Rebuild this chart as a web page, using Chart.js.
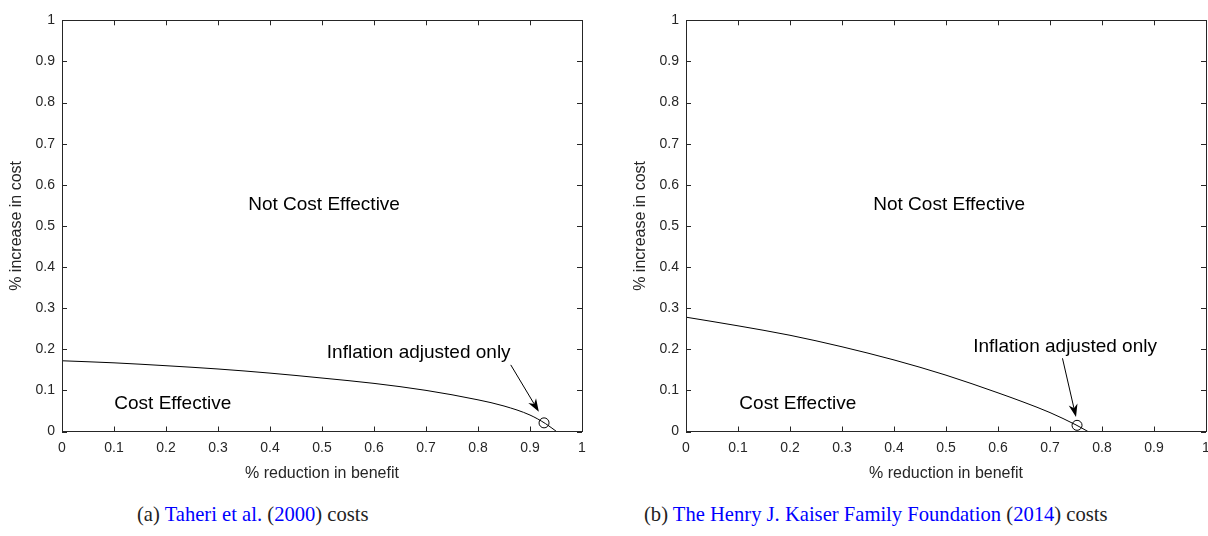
<!DOCTYPE html>
<html>
<head>
<meta charset="utf-8">
<script src="https://cdn.jsdelivr.net/npm/chart.js@4.4.0/dist/chart.umd.min.js"></script>
<style>
  html, body { margin: 0; padding: 0; background: #fff; overflow: hidden; width: 1208px; height: 536px; }
  .panel { position: absolute; top: 0; width: 604px; height: 490px; }
  .caption { position: absolute; top: 504px; line-height: 20px; font-family: "Liberation Serif", "Times New Roman", serif; font-size: 20.6px; color: #222; white-space: nowrap; }
  .caption .ref { color: #0000ff; }
</style>
</head>
<body>
<div class="panel" style="left:0"><canvas id="chartA" width="604" height="490"></canvas></div>
<div class="panel" style="left:624px"><canvas id="chartB" width="604" height="490"></canvas></div>
<div class="caption" style="left:137px">(a) <span class="ref">Taheri et al.</span> (<span class="ref">2000</span>) costs</div>
<div class="caption" style="left:644px">(b) <span class="ref">The Henry J. Kaiser Family Foundation</span> (<span class="ref">2014</span>) costs</div>
<script>
// break-even curve, Taheri et al. costs
const benefitA = [0, 0.1, 0.2, 0.3, 0.4, 0.5, 0.6, 0.7, 0.8, 0.85, 0.9, 0.93, 0.951];
const costA    = [0.172, 0.167, 0.160, 0.152, 0.142, 0.130, 0.117, 0.100, 0.077, 0.062, 0.040, 0.019, 0];

// break-even curve, Kaiser Family Foundation costs
const benefitB = [0, 0.1, 0.2, 0.3, 0.4, 0.5, 0.6, 0.65, 0.7, 0.75, 0.773];
const costB    = [0.278, 0.257, 0.234, 0.206, 0.174, 0.137, 0.094, 0.071, 0.046, 0.016, 0];

// "inflation adjusted only" points (panel a, panel b)
const markerBenefit = [0.927, 0.752];
const markerCost    = [0.021, 0.015];

const regionLabels = ['Not Cost Effective', 'Cost Effective'];
const markerLabel = 'Inflation adjusted only';
const xTitle = '% reduction in benefit';
const yTitle = '% increase in cost';

const FONT = '"Liberation Sans", Arial, Helvetica, sans-serif';
const AXIS = '#262626';

// 0, 0.1, ... 0.9, 1  (no trailing zeros)
const tickText = v => String(Math.round(v * 10) / 10);

// frame around the plot area with inward ticks on every side
const boxTicks = {
  id: 'boxTicks',
  afterDraw(chart) {
    const { ctx, chartArea: a, scales: { x, y } } = chart;
    const len = 5;
    ctx.save();
    ctx.strokeStyle = AXIS;
    ctx.lineWidth = 1;
    ctx.strokeRect(Math.round(a.left) + 0.5, Math.round(a.top) + 0.5, Math.round(a.right - a.left), Math.round(a.bottom - a.top));
    ctx.beginPath();
    x.ticks.forEach(t => {
      const px = Math.round(x.getPixelForValue(t.value)) + 0.5;
      ctx.moveTo(px, a.bottom); ctx.lineTo(px, a.bottom - len);
      ctx.moveTo(px, a.top); ctx.lineTo(px, a.top + len);
    });
    y.ticks.forEach(t => {
      const py = Math.round(y.getPixelForValue(t.value)) + 0.5;
      ctx.moveTo(a.left, py); ctx.lineTo(a.left + len, py);
      ctx.moveTo(a.right, py); ctx.lineTo(a.right - len, py);
    });
    ctx.stroke();
    ctx.restore();
  }
};

// region labels and the arrow pointing at the marker
const notes = {
  id: 'notes',
  afterDatasetsDraw(chart, args, opts) {
    const { ctx, scales: { x, y } } = chart;
    ctx.save();
    ctx.fillStyle = '#000';
    ctx.font = '19px ' + FONT;
    ctx.textAlign = 'center';
    ctx.textBaseline = 'middle';
    opts.texts.forEach(t => ctx.fillText(t.text, x.getPixelForValue(t.x), y.getPixelForValue(t.y)));

    const x0 = x.getPixelForValue(opts.arrow.from[0]), y0 = y.getPixelForValue(opts.arrow.from[1]);
    const x1 = x.getPixelForValue(opts.arrow.to[0]), y1 = y.getPixelForValue(opts.arrow.to[1]);
    const ang = Math.atan2(y1 - y0, x1 - x0);
    const hl = 13, hw = 4.5;
    const bx = x1 - hl * Math.cos(ang), by = y1 - hl * Math.sin(ang);
    const nx = x1 - hl * 0.7 * Math.cos(ang), ny = y1 - hl * 0.7 * Math.sin(ang);
    ctx.strokeStyle = '#000';
    ctx.lineWidth = 1;
    ctx.beginPath();
    ctx.moveTo(x0, y0);
    ctx.lineTo(nx, ny);
    ctx.stroke();
    ctx.beginPath();
    ctx.moveTo(x1, y1);
    ctx.lineTo(bx - hw * Math.sin(ang), by + hw * Math.cos(ang));
    ctx.lineTo(nx, ny);
    ctx.lineTo(bx + hw * Math.sin(ang), by - hw * Math.cos(ang));
    ctx.closePath();
    ctx.fill();
    ctx.restore();
  }
};

const makeChart = (id, benefit, cost, mark, texts, arrow) => {
  const curve = benefit.map((b, i) => ({ x: b, y: cost[i] }));
  return new Chart(document.getElementById(id), {
    type: 'line',
    data: {
      datasets: [{
        data: curve,
        borderColor: '#000',
        borderWidth: 1,
        pointRadius: 0,
        cubicInterpolationMode: 'monotone',
        fill: false
      }, {
        data: [mark],
        showLine: false,
        pointRadius: 5,
        pointHoverRadius: 5,
        pointBorderColor: '#000',
        pointBackgroundColor: 'rgba(0,0,0,0)',
        pointBorderWidth: 1
      }]
    },
    options: {
      responsive: false,
      animation: false,
      events: [],
      layout: { padding: { top: 20.3, right: 22, left: 0, bottom: 0 } },
      plugins: {
        legend: { display: false },
        tooltip: { enabled: false },
        notes: { texts: texts, arrow: arrow }
      },
      scales: {
        x: {
          type: 'linear',
          min: 0, max: 1,
          grid: { display: false, drawTicks: false },
          border: { display: false },
          ticks: { stepSize: 0.1, color: AXIS, padding: 8, maxRotation: 0, callback: tickText, font: { family: FONT, size: 14 } },
          title: { display: true, text: xTitle, color: AXIS, font: { family: FONT, size: 16 }, padding: { top: 0, bottom: 6.4 } },
          afterFit: s => { s.height = 58.5; s.paddingLeft = 0; s.paddingRight = 0; }
        },
        y: {
          min: 0, max: 1,
          grid: { display: false, drawTicks: false },
          border: { display: false },
          ticks: { stepSize: 0.1, color: AXIS, padding: 7, callback: tickText, font: { family: FONT, size: 14 } },
          title: { display: true, text: yTitle, color: AXIS, font: { family: FONT, size: 16 }, padding: { top: 7.4, bottom: 0 } },
          afterFit: s => { s.width = 62; s.paddingTop = 0; s.paddingBottom = 0; }
        }
      }
    },
    plugins: [boxTicks, notes]
  });
};

makeChart('chartA', benefitA, costA, { x: markerBenefit[0], y: markerCost[0] }, [
  { text: regionLabels[0], x: 0.504, y: 0.552 },
  { text: regionLabels[1], x: 0.213, y: 0.068 },
  { text: markerLabel, x: 0.686, y: 0.191 }
], { from: [0.863, 0.162], to: [0.917, 0.048] });

makeChart('chartB', benefitB, costB, { x: markerBenefit[1], y: markerCost[1] }, [
  { text: regionLabels[0], x: 0.506, y: 0.552 },
  { text: regionLabels[1], x: 0.215, y: 0.068 },
  { text: markerLabel, x: 0.729, y: 0.206 }
], { from: [0.724, 0.178], to: [0.75, 0.035] });
</script>
</body>
</html>
